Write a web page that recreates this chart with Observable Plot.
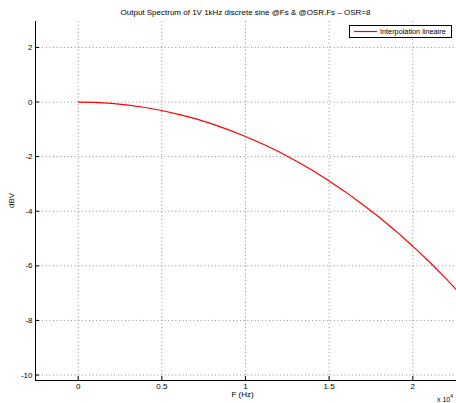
<!DOCTYPE html>
<html><head><meta charset="utf-8">
<script src="https://cdn.jsdelivr.net/npm/d3@7"></script>
<script src="https://cdn.jsdelivr.net/npm/@observablehq/plot@0.6"></script>
<style>
body{margin:0;background:#fff}
svg{display:block}
</style>
</head><body><div id="chart"></div>
<script>
// ---- data ----
const freqHz   = [0,1000,2000,3000,4000,5000,6000,7000,8000,9000,10000,11000,12000,13000,14000,15000,16000,17000,18000,19000,20000,21000,22000,22600];
const levelDbv = [0,-0.01,-0.05,-0.11,-0.20,-0.31,-0.45,-0.61,-0.80,-1.02,-1.26,-1.53,-1.82,-2.15,-2.50,-2.89,-3.30,-3.75,-4.22,-4.73,-5.28,-5.86,-6.48,-6.87];
const xTicks = [0,5000,10000,15000,20000];
const yTicks = [-10,-8,-6,-4,-2,0,2];
const xDomain = [-2552, 22614];
const yDomain = [-10.2, 2.95];
const seriesName = "Interpolation lineaire";
const titleText = "Output Spectrum of 1V 1kHz discrete sine @Fs & @OSR.Fs \u2013 OSR=8";
const xLabel = "F (Hz)";
const yLabel = "dBV";

const data = freqHz.map((f, i) => ({f, v: levelDbv[i]}));
const W = 456, H = 403;
const mL = 35, mR = 0, mT = 21, mB = 23;
const font = "'Liberation Sans', Arial, Helvetica, sans-serif";
const fs = 8;
const gridStyle = {stroke: "#8c8c8c", strokeOpacity: 1, strokeDasharray: "1,2.6", strokeWidth: 1};

const plot = Plot.plot({
  width: W, height: H,
  marginLeft: mL, marginRight: mR, marginTop: mT, marginBottom: mB,
  style: {fontFamily: font, fontSize: fs + "px", color: "#000", background: "#fff"},
  x: {domain: xDomain},
  y: {domain: yDomain},
  marks: [
    Plot.gridX(xTicks, gridStyle),
    Plot.gridY(yTicks, gridStyle),
    Plot.ruleY([yDomain[0]], {stroke: "#000", strokeWidth: 1}),
    Plot.ruleX([xDomain[0]], {stroke: "#000", strokeWidth: 1}),
    Plot.line(data, {x: "f", y: "v", stroke: "#ff0000", strokeWidth: 1.2}),
    Plot.axisX(xTicks, {tickSize: -4, tickPadding: 7, tickFormat: d => String(d / 1e4), label: null, fontSize: fs}),
    Plot.axisY(yTicks, {tickSize: -4, tickPadding: 7, tickFormat: d => String(d), label: null, fontSize: fs})
  ]
});
document.getElementById("chart").appendChild(plot);

const svg = d3.select(plot);
const cx = (mL + W - mR) / 2;

svg.append("text").attr("x", cx).attr("y", 15).attr("text-anchor", "middle")
  .attr("font-family", font).attr("font-size", fs).text(titleText);
svg.append("text").attr("x", cx - 3).attr("y", 397).attr("text-anchor", "middle")
  .attr("font-family", font).attr("font-size", fs).text(xLabel);
svg.append("text").attr("transform", `translate(14,${(mT + H - mB) / 2}) rotate(-90)`)
  .attr("text-anchor", "middle").attr("font-family", font).attr("font-size", fs).text(yLabel);
const mult = svg.append("text").attr("x", 437).attr("y", 402).attr("text-anchor", "start")
  .attr("font-family", font).attr("font-size", 7);
mult.append("tspan").text("x 10");
mult.append("tspan").attr("dy", -4).attr("font-size", 5).text("4");

// legend
const lg = svg.append("g");
lg.append("rect").attr("x", 349.5).attr("y", 25.5).attr("width", 102).attr("height", 12)
  .attr("fill", "#fff").attr("stroke", "#000").attr("stroke-width", 1);
lg.append("line").attr("x1", 354).attr("x2", 377).attr("y1", 31.5).attr("y2", 31.5)
  .attr("stroke", "#ff0000").attr("stroke-width", 1.2);
lg.append("text").attr("x", 380).attr("y", 34.3).attr("text-anchor", "start")
  .attr("font-family", font).attr("font-size", 7.3).text(seriesName);
</script>
</body></html>
